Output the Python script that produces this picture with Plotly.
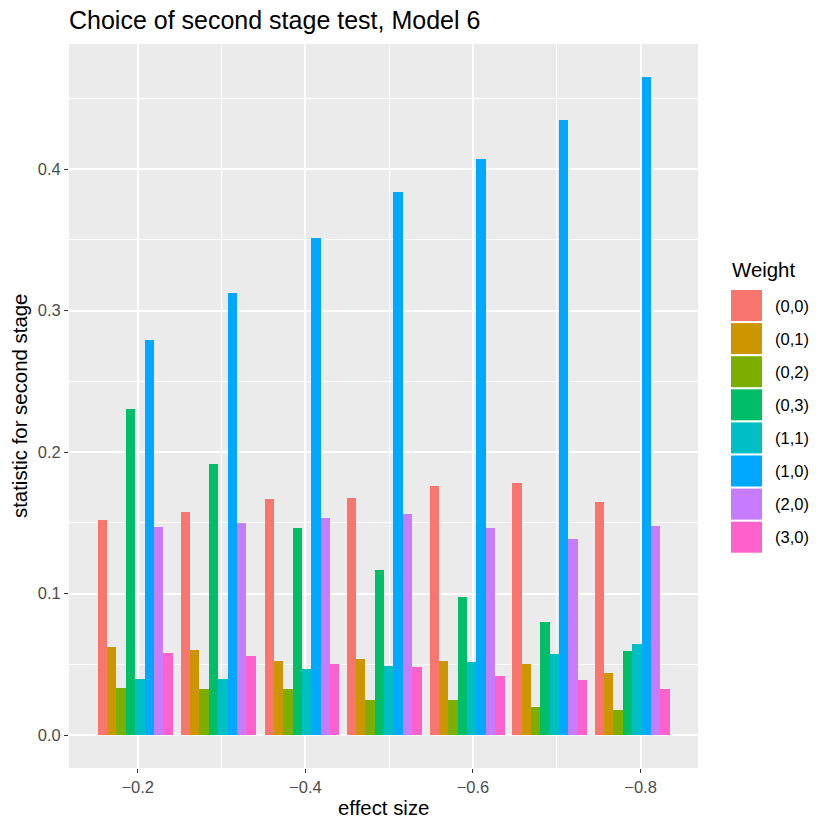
import plotly.graph_objects as go

# ---- data ----
effect_size = [-0.197, -0.296, -0.396, -0.494, -0.593, -0.6915, -0.790]  # group centres
weights = ["(0,0)", "(0,1)", "(0,2)", "(0,3)", "(1,1)", "(1,0)", "(2,0)", "(3,0)"]
colors = ["#F8766D", "#CD9600", "#7CAE00", "#00BE67", "#00BFC4", "#00A9FF", "#C77CFF", "#FF61CC"]

w00 = [0.1517, 0.1579, 0.1671, 0.1678, 0.1764, 0.1782, 0.1649]
w01 = [0.0620, 0.0603, 0.0523, 0.0538, 0.0525, 0.0503, 0.0442]
w02 = [0.0330, 0.0328, 0.0327, 0.0250, 0.0245, 0.0196, 0.0180]
w03 = [0.2304, 0.1913, 0.1463, 0.1170, 0.0979, 0.0797, 0.0597]
w11 = [0.0396, 0.0396, 0.0469, 0.0488, 0.0515, 0.0571, 0.0644]
w10 = [0.2790, 0.3126, 0.3510, 0.3840, 0.4073, 0.4350, 0.4652]
w20 = [0.1468, 0.1496, 0.1537, 0.1562, 0.1463, 0.1387, 0.1475]
w30 = [0.0577, 0.0556, 0.0503, 0.0483, 0.0417, 0.0386, 0.0324]
series = [w00, w01, w02, w03, w11, w10, w20, w30]

x_tickvals = [-0.2, -0.4, -0.6, -0.8]
x_ticktext = ["\u22120.2", "\u22120.4", "\u22120.6", "\u22120.8"]
y_tickvals = [0.0, 0.1, 0.2, 0.3, 0.4]
y_ticktext = ["0.0", "0.1", "0.2", "0.3", "0.4"]

FONT = "Liberation Sans, Arial, Helvetica, sans-serif"

group_w = 0.0894
bar_w = group_w / len(weights)

# page offset of the screenshot (body margin)
OFF = 8
PL, PR, PT, PB = 69, 698, 44, 768   # target panel edges in screenshot pixels
W = H = 830

fig = go.Figure()
for i, (name, vals, col) in enumerate(zip(weights, series, colors)):
    fig.add_trace(go.Bar(
        x=effect_size, y=vals, name=name,
        width=bar_w, offset=group_w / 2 - (i + 1) * bar_w,
        marker=dict(color=col, line=dict(width=0)),
        showlegend=False,
    ))

ymax = max(max(s) for s in series)
yexp = 0.05 * ymax

fig.update_layout(
    width=W, height=H,
    margin=dict(l=PL - OFF, r=W - PR + OFF, t=PT - OFF, b=H - PB + OFF),
    paper_bgcolor="white", plot_bgcolor="#EBEBEB",
    barmode="overlay", bargap=0,
    font=dict(family=FONT, color="black"),
    title=dict(text="Choice of second stage test, Model 6", x=0, xref="paper", xanchor="left",
               y=1 - (20 - OFF) / H, yref="container", yanchor="middle",
               font=dict(size=25, color="black", family=FONT)),
    xaxis=dict(range=[-0.118, -0.8685], tickvals=x_tickvals, ticktext=x_ticktext,
               showgrid=True, gridcolor="white", gridwidth=2, zeroline=False, showline=False,
               ticks="outside", ticklen=4, tickwidth=1.2, tickcolor="#333333",
               tickfont=dict(size=16.5, color="#4D4D4D", family=FONT),
               minor=dict(tickvals=[-0.3, -0.5, -0.7], showgrid=True, gridcolor="white", gridwidth=1, ticks="")),
    yaxis=dict(range=[-yexp, ymax + yexp], tickvals=y_tickvals, ticktext=y_ticktext,
               showgrid=True, gridcolor="white", gridwidth=2, zeroline=False, showline=False,
               ticks="outside", ticklen=4, tickwidth=1.2, tickcolor="#333333",
               tickfont=dict(size=16.5, color="#4D4D4D", family=FONT),
               minor=dict(tickvals=[0.05, 0.15, 0.25, 0.35, 0.45], showgrid=True, gridcolor="white", gridwidth=1, ticks="")),
)

def px_x(px):
    return (px - PL) / (PR - PL)

def px_y(py):
    return (PB - py) / (PB - PT)

# axis titles
fig.add_annotation(text="effect size", x=0.5, y=px_y(808), xref="paper", yref="paper",
                   xanchor="center", yanchor="middle", showarrow=False,
                   font=dict(size=20.4, color="black", family=FONT))
fig.add_annotation(text="statistic for second stage", x=px_x(20), y=0.5, xref="paper", yref="paper",
                   xanchor="center", yanchor="middle", textangle=-90, showarrow=False,
                   font=dict(size=20.4, color="black", family=FONT))

# legend (drawn manually to match ggplot key size)
fig.add_annotation(text="Weight", x=px_x(730), y=px_y(270), xref="paper", yref="paper",
                   xanchor="left", yanchor="middle", showarrow=False,
                   font=dict(size=20.4, color="black", family=FONT))
key_top = 290
key_step = 33.1
key_size = 31
for i, (name, col) in enumerate(zip(weights, colors)):
    top = key_top + i * key_step
    fig.add_shape(type="rect", xref="paper", yref="paper",
                  x0=px_x(731), x1=px_x(731 + key_size), y0=px_y(top), y1=px_y(top + key_size),
                  fillcolor=col, line=dict(width=0))
    fig.add_annotation(text=name, x=px_x(773), y=px_y(top + key_size / 2), xref="paper", yref="paper",
                       xanchor="left", yanchor="middle", showarrow=False,
                       font=dict(size=16.5, color="black", family=FONT))

fig.write_html("out.html")
